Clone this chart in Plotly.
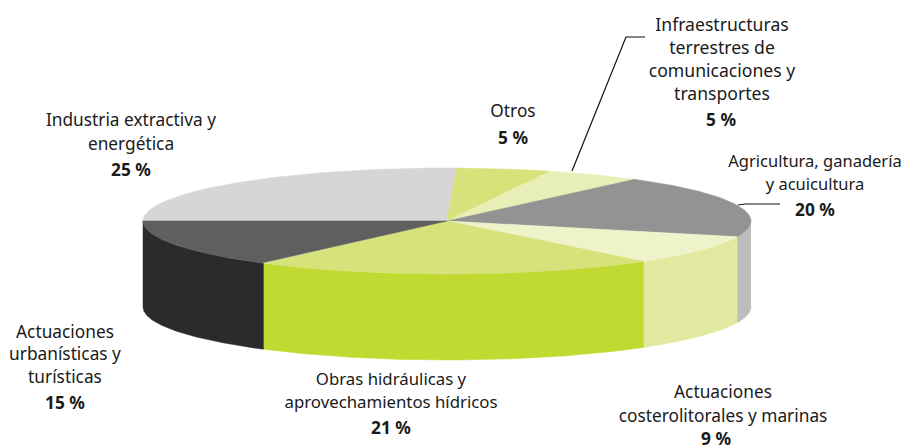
import numpy as np
import plotly.graph_objects as go

# --- data ---
categories = ["Industria extractiva y energética", "Otros",
              "Infraestructuras terrestres de comunicaciones y transportes",
              "Agricultura, ganadería y acuicultura",
              "Actuaciones costerolitorales y marinas",
              "Obras hidráulicas y aprovechamientos hídricos",
              "Actuaciones urbanísticas y turísticas"]
labelled_percent = [25, 5, 5, 20, 9, 21, 15]
# slice sizes as actually drawn in the picture (%)
drawn_share = [25.5, 5.0, 5.1, 19.2, 9.0, 21.5, 14.7]

# --- style and layout ---
top_colors = ["#d6d6d6", "#d7e27b", "#e8efb6", "#939393", "#eef3ca", "#d6e27a", "#5f5f5f"]
side_colors = ["#d6d6d6", "#d7e27b", "#e8efb6", "#bdbdbd", "#e1e9a1", "#c1da31", "#2b2b2b"]
label_lines = [["Industria extractiva y", "energética"], ["Otros"],
               ["Infraestructuras", "terrestres de", "comunicaciones y", "transportes"],
               ["Agricultura, ganadería", "y acuicultura"],
               ["Actuaciones", "costerolitorales y marinas"],
               ["Obras hidráulicas y", "aprovechamientos hídricos"],
               ["Actuaciones", "urbanísticas y", "turísticas"]]
label_x = [131, 513, 722, 815, 723, 391, 65]
label_first_y = [121.5, 112.5, 26.5, 162.5, 393.5, 380.5, 333.5]
line_step = [24, 0, 23, 23, 24, 23, 22.5]
label_size = [17.3, 17.3, 17.6, 16.5, 17.3, 16.8, 17.3]
pct_x = [131, 513, 721, 815, 716, 391, 65]
pct_y = [171.5, 139.5, 121.5, 211.5, 441, 429.5, 404.5]
CX, CY, RX, RY, DEPTH = 447, 221, 304, 53, 86
START = 270.0
FONT = "Noto Sans"
FONT_SIZE = 17.3


def ell(t_deg, dy=0.0):
    t = np.radians(t_deg)
    return CX + RX * np.sin(t), CY - RY * np.cos(t) + dy


fig = go.Figure()
edges = START + np.concatenate([[0], np.cumsum(drawn_share)]) * 3.6

# sides: only the front half (90..270 deg) is visible
for i in range(len(drawn_share)):
    a0, a1 = edges[i], edges[i + 1]
    lo, hi = None, None
    for shift in (0, -360):
        l, h = max(a0 + shift, 90), min(a1 + shift, 270)
        if h > l:
            lo, hi = l, h
    if lo is None:
        continue
    t = np.linspace(lo, hi, 80)
    x1, y1 = ell(t)
    x2, y2 = ell(t[::-1], DEPTH)
    fig.add_trace(go.Scatter(x=np.r_[x1, x2], y=np.r_[y1, y2], mode="lines", fill="toself",
                             fillcolor=side_colors[i], line=dict(color=side_colors[i], width=0.5),
                             hoverinfo="skip", showlegend=False))

# top faces
for i in range(len(drawn_share)):
    t = np.linspace(edges[i], edges[i + 1], 120)
    x1, y1 = ell(t)
    fig.add_trace(go.Scatter(x=np.r_[CX, x1, CX], y=np.r_[CY, y1, CY], mode="lines", fill="toself",
                             fillcolor=top_colors[i], line=dict(color=top_colors[i], width=0.5),
                             name=categories[i], hoverinfo="name", showlegend=False))

# leader lines
for lx, ly in [([572, 626, 645], [171, 37, 37]), ([738, 745, 780], [205, 204, 204])]:
    fig.add_trace(go.Scatter(x=lx, y=ly, mode="lines", line=dict(color="#111111", width=1.2),
                             hoverinfo="skip", showlegend=False))

# labels
xs, ys, txt, sizes = [], [], [], []
for i, lines in enumerate(label_lines):
    for j, s in enumerate(lines):
        xs.append(label_x[i]); ys.append(label_first_y[i] + j * line_step[i]); txt.append(s)
        sizes.append(label_size[i])
fig.add_trace(go.Scatter(x=xs, y=ys, text=txt, mode="text", textposition="middle center",
                         textfont=dict(family=FONT, size=sizes, color="#1a1a1a"),
                         hoverinfo="skip", showlegend=False))
fig.add_trace(go.Scatter(x=pct_x, y=pct_y, text=[f"<b>{v} %</b>" for v in labelled_percent],
                         mode="text", textposition="middle center",
                         textfont=dict(family=FONT, size=FONT_SIZE, color="#1a1a1a"),
                         hoverinfo="skip", showlegend=False))

fig.update_layout(width=903, height=447, margin=dict(l=0, r=0, t=0, b=0),
                  paper_bgcolor="white", plot_bgcolor="white",
                  xaxis=dict(range=[0, 903], visible=False, fixedrange=True),
                  yaxis=dict(range=[447, 0], visible=False, fixedrange=True))
fig.write_html("out.html", config=dict(displayModeBar=False),
               post_script="document.body.style.margin='0';document.body.style.overflow='hidden';")
